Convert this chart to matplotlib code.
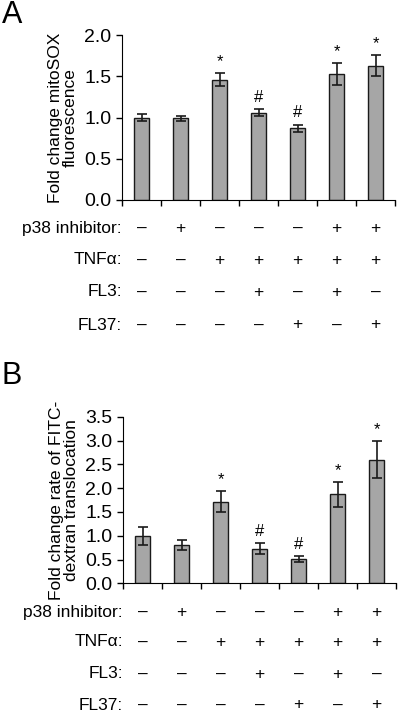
import numpy as np
import matplotlib.pyplot as plt
from matplotlib.transforms import blended_transform_factory

plt.rcParams['font.family'] = ['Liberation Sans', 'DejaVu Sans']

# Panel A data
mito_mean = [1.00, 0.99, 1.46, 1.06, 0.87, 1.53, 1.63]
mito_err = [0.045, 0.03, 0.08, 0.045, 0.045, 0.13, 0.13]
mito_marks = ['', '', '*', '#', '#', '*', '*']

# Panel B data
fitc_mean = [1.00, 0.80, 1.71, 0.73, 0.51, 1.87, 2.60]
fitc_err = [0.19, 0.11, 0.22, 0.11, 0.07, 0.26, 0.39]
fitc_marks = ['', '', '*', '#', '#', '*', '*']

# treatment table
row_names = ['p38 inhibitor:', 'TNF\u03b1:', 'FL3:', 'FL37:']
p38 = ['\u2013', '+', '\u2013', '\u2013', '\u2013', '+', '+']
tnf = ['\u2013', '\u2013', '+', '+', '+', '+', '+']
fl3 = ['\u2013', '\u2013', '\u2013', '+', '\u2013', '+', '\u2013']
fl37 = ['\u2013', '\u2013', '\u2013', '\u2013', '+', '\u2013', '+']
table_rows = [p38, tnf, fl3, fl37]

W, H = 400, 713
fig = plt.figure(figsize=(W / 100, H / 100), dpi=100)


def panel(rect, means, errs, marks, ymax, ylabel, row_y, letter, letter_y):
    ax = fig.add_axes(rect)
    x = np.arange(len(means))
    ax.bar(x, means, width=0.41, color='#a6a6a6', edgecolor='#1a1a1a', linewidth=1.0)
    ax.errorbar(x, means, yerr=errs, fmt='none', ecolor='#1a1a1a', elinewidth=1.2,
                capsize=3.5, capthick=1.2)
    for xi, m, e, s in zip(x, means, errs, marks):
        if s:
            ax.annotate(s, (xi, m + e), xytext=(0, 3), textcoords='offset points',
                        ha='center', va='bottom', fontsize=12)
    ax.set_xlim(-0.5, len(means) - 0.5)
    ax.set_ylim(0, ymax)
    ticks = np.arange(0, ymax + 0.01, 0.5)
    ax.set_yticks(ticks)
    ax.set_yticklabels(['%.1f' % v for v in ticks], fontsize=14)
    ax.set_xticks(np.arange(-0.5, len(means), 1.0))
    ax.set_xticklabels([])
    ax.tick_params(axis='both', direction='out', length=4, width=1)
    for s in ['top', 'right']:
        ax.spines[s].set_visible(False)
    ax.set_ylabel(ylabel, fontsize=12.5, labelpad=5, linespacing=1.0)
    tr = blended_transform_factory(ax.transData, fig.transFigure)
    for name, vals, yp in zip(row_names, table_rows, row_y):
        yf = 1 - yp / H
        ax.text(-0.5, yf, name, transform=tr, ha='right', va='center', fontsize=12.5)
        for xi, v in zip(x, vals):
            ax.text(xi, yf, v, transform=tr, ha='center', va='center', fontsize=12.5)
    fig.text(2 / W, 1 - letter_y / H, letter, fontsize=22, ha='left', va='center')
    return ax


panel([122 / W, 1 - 200 / H, 273 / W, 165 / H], mito_mean, mito_err, mito_marks, 2.0,
      'Fold change mitoSOX\nfluorescence', [228, 260, 292, 325], 'A', 15)
panel([123 / W, 1 - 583.3 / H, 273 / W, 166.6 / H], fitc_mean, fitc_err, fitc_marks, 3.5,
      'Fold change rate of FITC-\ndextran translocation', [612, 642, 674, 705], 'B', 376)

fig.savefig('out.png', dpi=100)
